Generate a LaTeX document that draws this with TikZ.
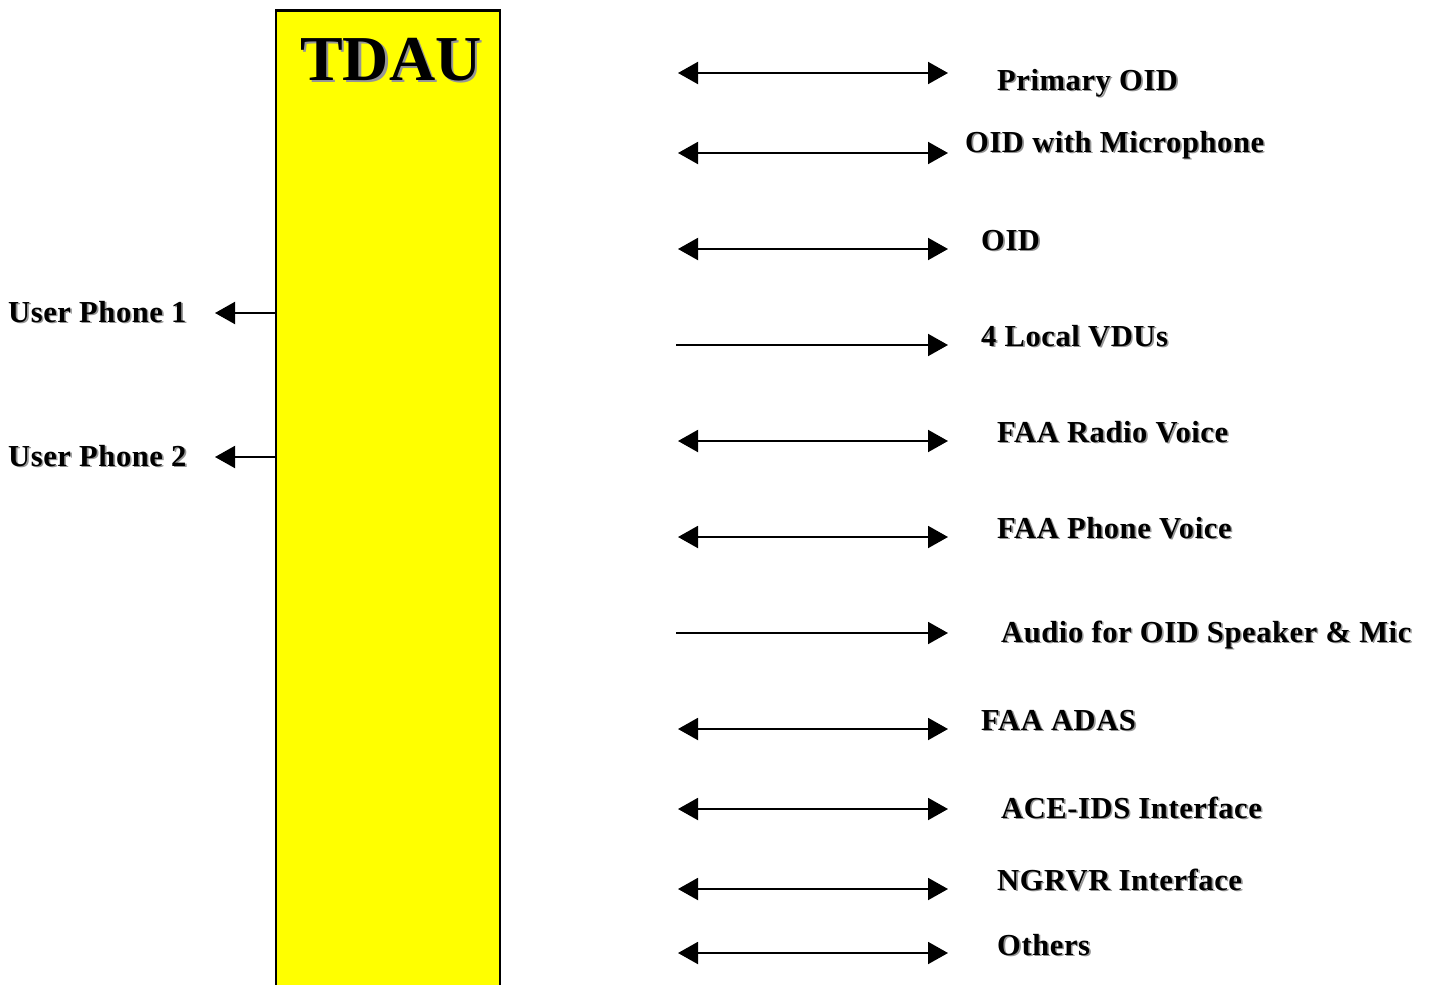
\documentclass[tikz,border=0pt]{standalone}
\usepackage{fontspec}
\setmainfont{Liberation Serif}
\newfontfamily\lblfont[LetterSpace=2]{Liberation Serif}
\usetikzlibrary{arrows.meta}
\definecolor{shadowgray}{RGB}{150,150,150}
\definecolor{boxyellow}{RGB}{255,255,0}
\tikzset{
  tipa/.tip={Triangle[length=20pt,width=22pt]},
  arr/.style={line width=2pt, -tipa},
  barr/.style={line width=2pt, tipa-tipa},
  lbl/.style={anchor=base west, inner sep=0pt, font=\fontsize{30.5}{36}\lblfont\bfseries},
  shd/.style={lbl, text=shadowgray},
  box/.style={draw, line width=2.8pt, fill=boxyellow, inner sep=0pt, anchor=north},
}
\newcommand\labeltext[4]{%
  \node[shd] at (#2+1.6,#3+1.6) {#4};
  \node[lbl] (#1) at (#2,#3) {#4};
}
\begin{document}
\begin{tikzpicture}[x=1pt,y=-1pt]
\useasboundingbox (0,0) rectangle (1435,985);
\clip (0,0) rectangle (1435,985);
\fill[white] (0,0) rectangle (1435,985);
% main box
\node[box, minimum width=224pt, minimum height=1000pt] (tdau) at (388,9) {};
\node[anchor=base west, inner sep=0pt, text=shadowgray, font=\fontsize{64}{70}\selectfont\bfseries] at (302.5,82.5) {TDAU};
\node[anchor=base west, inner sep=0pt, font=\fontsize{64}{70}\selectfont\bfseries] (title) at (300,80) {TDAU};
% left side
\coordinate (up1) at (215,313);
\coordinate (up2) at (215,457);
\draw[arr] (up1 -| tdau.west) -- (up1);
\draw[arr] (up2 -| tdau.west) -- (up2);
\labeltext{lup1}{8}{322}{User Phone 1}
\labeltext{lup2}{8}{466}{User Phone 2}
% right side coordinates
\foreach \n/\y in {a/73,b/153,c/249,d/345,e/441,f/537,g/633,h/729,i/809,j/889,k/953}{
  \coordinate (\n L) at (678,\y);
  \coordinate (\n R) at (948,\y);
}
\coordinate (dS) at (676,345);
\coordinate (gS) at (676,633);
\draw[barr] (aL) -- (aR);
\draw[barr] (bL) -- (bR);
\draw[barr] (cL) -- (cR);
\draw[arr] (dS) -- (dR);
\draw[barr] (eL) -- (eR);
\draw[barr] (fL) -- (fR);
\draw[arr] (gS) -- (gR);
\draw[barr] (hL) -- (hR);
\draw[barr] (iL) -- (iR);
\draw[barr] (jL) -- (jR);
\draw[barr] (kL) -- (kR);
% labels
\labeltext{la}{997}{90}{Primary OID}
\labeltext{lb}{965}{152}{OID with Microphone}
\labeltext{lc}{981}{250}{OID}
\labeltext{ld}{981}{346}{4 Local VDUs}
\labeltext{le}{997}{442}{FAA Radio Voice}
\labeltext{lf}{997}{538}{FAA Phone Voice}
\labeltext{lg}{1001}{642}{Audio for OID Speaker \& Mic}
\labeltext{lh}{981}{730}{FAA ADAS}
\labeltext{li}{1001}{818}{ACE-IDS Interface}
\labeltext{lj}{997}{890}{NGRVR Interface}
\labeltext{lk}{997}{955}{Others}
\end{tikzpicture}
\end{document}
